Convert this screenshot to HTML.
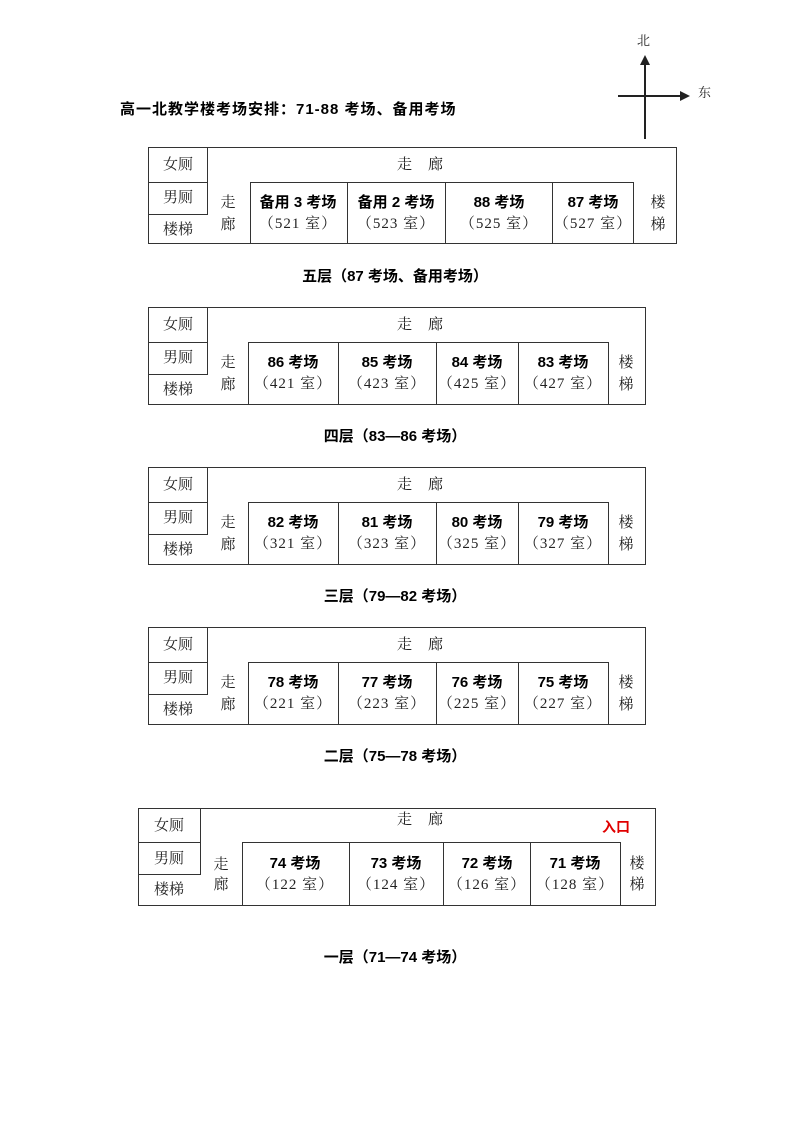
<!DOCTYPE html>
<html><head><meta charset="utf-8"><style>
body{margin:0;background:#fff;}
#p{position:relative;width:793px;height:1122px;overflow:hidden;font-family:"Liberation Serif","Noto Serif CJK SC","Noto Sans CJK SC",serif;color:#222;}
.a{position:absolute;}
.b{position:absolute;border:1px solid #333;box-sizing:border-box;}
.t{position:absolute;font-size:15px;line-height:18px;white-space:nowrap;transform:translateX(-50%);}
.bd{font-weight:bold;color:#000;font-family:"Liberation Sans","Noto Sans CJK SC",sans-serif;}
.s{letter-spacing:1px;}
</style></head><body><div id="p">

<div class="a bd" style="left:120px;top:98px;font-size:15px;letter-spacing:1px">高一北教学楼考场安排：71-88 考场、备用考场</div>
<div class="a" style="left:637px;top:30px;font-size:13px;">北</div>
<div class="a" style="left:698px;top:82px;font-size:13px;">东</div>
<div class="a" style="left:644px;top:64px;width:2px;height:75px;background:#222"></div>
<div class="a" style="left:640px;top:55px;width:0;height:0;border-left:5px solid transparent;border-right:5px solid transparent;border-bottom:10px solid #222"></div>
<div class="a" style="left:618px;top:95px;width:64px;height:2px;background:#222"></div>
<div class="a" style="left:680px;top:91px;width:0;height:0;border-top:5px solid transparent;border-bottom:5px solid transparent;border-left:10px solid #222"></div>

<!-- Floor 5 -->
<div class="b" style="left:148px;top:147px;width:529px;height:97px"></div>
<div class="b" style="left:148px;top:147px;width:60px;height:36px"></div>
<div class="b" style="left:148px;top:182px;width:60px;height:33px"></div>
<div class="t" style="left:178px;top:156px">女厕</div>
<div class="t" style="left:178px;top:189px">男厕</div>
<div class="t" style="left:178px;top:221px">楼梯</div>
<div class="t" style="left:428px;top:156px;letter-spacing:16px">走廊</div>
<div class="t" style="left:228px;top:194px">走</div>
<div class="t" style="left:228px;top:216px">廊</div>
<div class="b" style="left:250px;top:182px;width:98px;height:62px"></div>
<div class="b" style="left:347px;top:182px;width:99px;height:62px"></div>
<div class="b" style="left:445px;top:182px;width:108px;height:62px"></div>
<div class="b" style="left:552px;top:182px;width:82px;height:62px"></div>
<div class="t bd" style="left:298px;top:194px">备用 3 考场</div><div class="t s" style="left:298px;top:215px">（521 室）</div>
<div class="t bd" style="left:396px;top:194px">备用 2 考场</div><div class="t s" style="left:396px;top:215px">（523 室）</div>
<div class="t bd" style="left:499px;top:194px">88 考场</div><div class="t s" style="left:499px;top:215px">（525 室）</div>
<div class="t bd" style="left:593px;top:194px">87 考场</div><div class="t s" style="left:593px;top:215px">（527 室）</div>
<div class="t" style="left:658px;top:194px">楼</div><div class="t" style="left:658px;top:216px">梯</div>
<div class="t bd" style="left:395px;top:268px">五层（87 考场、备用考场）</div>

<!-- Floor 4 -->
<div class="b" style="left:148px;top:307px;width:498px;height:98px"></div>
<div class="b" style="left:148px;top:307px;width:60px;height:36px"></div>
<div class="b" style="left:148px;top:342px;width:60px;height:33px"></div>
<div class="t" style="left:178px;top:316px">女厕</div>
<div class="t" style="left:178px;top:349px">男厕</div>
<div class="t" style="left:178px;top:381px">楼梯</div>
<div class="t" style="left:428px;top:316px;letter-spacing:16px">走廊</div>
<div class="t" style="left:228px;top:354px">走</div>
<div class="t" style="left:228px;top:376px">廊</div>
<div class="b" style="left:248px;top:342px;width:91px;height:63px"></div>
<div class="b" style="left:338px;top:342px;width:99px;height:63px"></div>
<div class="b" style="left:436px;top:342px;width:83px;height:63px"></div>
<div class="b" style="left:518px;top:342px;width:91px;height:63px"></div>
<div class="t bd" style="left:293px;top:354px">86 考场</div><div class="t s" style="left:293px;top:375px">（421 室）</div>
<div class="t bd" style="left:387px;top:354px">85 考场</div><div class="t s" style="left:387px;top:375px">（423 室）</div>
<div class="t bd" style="left:477px;top:354px">84 考场</div><div class="t s" style="left:477px;top:375px">（425 室）</div>
<div class="t bd" style="left:563px;top:354px">83 考场</div><div class="t s" style="left:563px;top:375px">（427 室）</div>
<div class="t" style="left:626px;top:354px">楼</div><div class="t" style="left:626px;top:376px">梯</div>
<div class="t bd" style="left:395px;top:428px">四层（83—86 考场）</div>

<!-- Floor 3 -->
<div class="b" style="left:148px;top:467px;width:498px;height:98px"></div>
<div class="b" style="left:148px;top:467px;width:60px;height:36px"></div>
<div class="b" style="left:148px;top:502px;width:60px;height:33px"></div>
<div class="t" style="left:178px;top:476px">女厕</div>
<div class="t" style="left:178px;top:509px">男厕</div>
<div class="t" style="left:178px;top:541px">楼梯</div>
<div class="t" style="left:428px;top:476px;letter-spacing:16px">走廊</div>
<div class="t" style="left:228px;top:514px">走</div>
<div class="t" style="left:228px;top:536px">廊</div>
<div class="b" style="left:248px;top:502px;width:91px;height:63px"></div>
<div class="b" style="left:338px;top:502px;width:99px;height:63px"></div>
<div class="b" style="left:436px;top:502px;width:83px;height:63px"></div>
<div class="b" style="left:518px;top:502px;width:91px;height:63px"></div>
<div class="t bd" style="left:293px;top:514px">82 考场</div><div class="t s" style="left:293px;top:535px">（321 室）</div>
<div class="t bd" style="left:387px;top:514px">81 考场</div><div class="t s" style="left:387px;top:535px">（323 室）</div>
<div class="t bd" style="left:477px;top:514px">80 考场</div><div class="t s" style="left:477px;top:535px">（325 室）</div>
<div class="t bd" style="left:563px;top:514px">79 考场</div><div class="t s" style="left:563px;top:535px">（327 室）</div>
<div class="t" style="left:626px;top:514px">楼</div><div class="t" style="left:626px;top:536px">梯</div>
<div class="t bd" style="left:395px;top:588px">三层（79—82 考场）</div>

<!-- Floor 2 -->
<div class="b" style="left:148px;top:627px;width:498px;height:98px"></div>
<div class="b" style="left:148px;top:627px;width:60px;height:36px"></div>
<div class="b" style="left:148px;top:662px;width:60px;height:33px"></div>
<div class="t" style="left:178px;top:636px">女厕</div>
<div class="t" style="left:178px;top:669px">男厕</div>
<div class="t" style="left:178px;top:701px">楼梯</div>
<div class="t" style="left:428px;top:636px;letter-spacing:16px">走廊</div>
<div class="t" style="left:228px;top:674px">走</div>
<div class="t" style="left:228px;top:696px">廊</div>
<div class="b" style="left:248px;top:662px;width:91px;height:63px"></div>
<div class="b" style="left:338px;top:662px;width:99px;height:63px"></div>
<div class="b" style="left:436px;top:662px;width:83px;height:63px"></div>
<div class="b" style="left:518px;top:662px;width:91px;height:63px"></div>
<div class="t bd" style="left:293px;top:674px">78 考场</div><div class="t s" style="left:293px;top:695px">（221 室）</div>
<div class="t bd" style="left:387px;top:674px">77 考场</div><div class="t s" style="left:387px;top:695px">（223 室）</div>
<div class="t bd" style="left:477px;top:674px">76 考场</div><div class="t s" style="left:477px;top:695px">（225 室）</div>
<div class="t bd" style="left:563px;top:674px">75 考场</div><div class="t s" style="left:563px;top:695px">（227 室）</div>
<div class="t" style="left:626px;top:674px">楼</div><div class="t" style="left:626px;top:696px">梯</div>
<div class="t bd" style="left:395px;top:748px">二层（75—78 考场）</div>

<!-- Floor 1 -->
<div class="b" style="left:138px;top:808px;width:518px;height:98px"></div>
<div class="b" style="left:138px;top:808px;width:63px;height:35px"></div>
<div class="b" style="left:138px;top:842px;width:63px;height:33px"></div>
<div class="t" style="left:169px;top:817px">女厕</div>
<div class="t" style="left:169px;top:850px">男厕</div>
<div class="t" style="left:169px;top:881px">楼梯</div>
<div class="t" style="left:428px;top:811px;letter-spacing:16px">走廊</div>
<div class="a bd" style="left:602px;top:817px;font-size:14px;color:#e00000">入口</div>
<div class="t" style="left:221px;top:856px">走</div>
<div class="t" style="left:221px;top:876px">廊</div>
<div class="b" style="left:242px;top:842px;width:108px;height:64px"></div>
<div class="b" style="left:349px;top:842px;width:95px;height:64px"></div>
<div class="b" style="left:443px;top:842px;width:88px;height:64px"></div>
<div class="b" style="left:530px;top:842px;width:91px;height:64px"></div>
<div class="t bd" style="left:295px;top:855px">74 考场</div><div class="t s" style="left:295px;top:876px">（122 室）</div>
<div class="t bd" style="left:396px;top:855px">73 考场</div><div class="t s" style="left:396px;top:876px">（124 室）</div>
<div class="t bd" style="left:487px;top:855px">72 考场</div><div class="t s" style="left:487px;top:876px">（126 室）</div>
<div class="t bd" style="left:575px;top:855px">71 考场</div><div class="t s" style="left:575px;top:876px">（128 室）</div>
<div class="t" style="left:637px;top:855px">楼</div><div class="t" style="left:637px;top:876px">梯</div>
<div class="t bd" style="left:395px;top:949px">一层（71—74 考场）</div>

</div></body></html>
